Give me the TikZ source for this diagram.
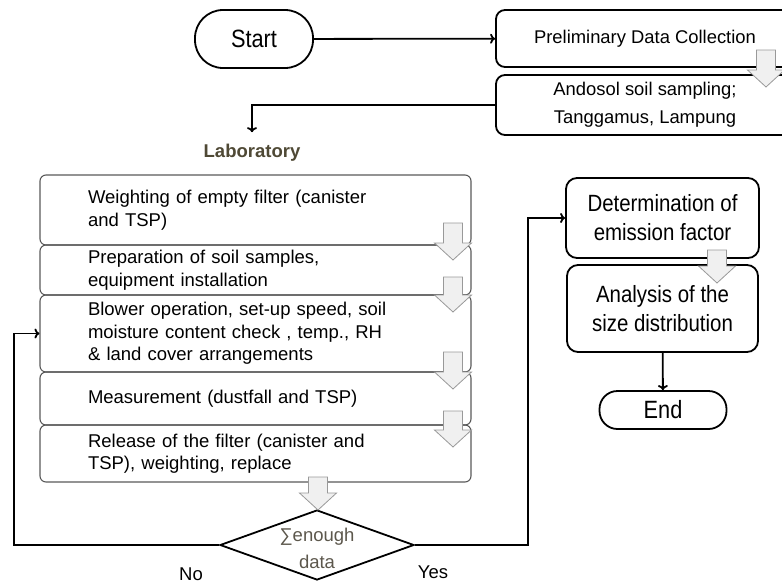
\documentclass[tikz,border=0pt]{standalone}
\usepackage{fontspec}
\setmainfont{Liberation Sans}
\newfontfamily\narrowsans{Liberation Sans}[FakeStretch=0.87]
\usetikzlibrary{shapes.geometric,arrows.meta}
\definecolor{labtext}{HTML}{4F4935}
\definecolor{dectext}{HTML}{5C574C}
% hollow down arrow: centre x, top y, tip y
\newcommand{\blockarrow}[3]{\draw[hollow] (#1-9.5,#2) -- (#1+9.5,#2) -- (#1+9.5,#3-17) -- (#1+18.5,#3-17) -- (#1,#3) -- (#1-18.5,#3-17) -- (#1-9.5,#3-17) -- cycle;}
\begin{document}
\begin{tikzpicture}[x=1pt,y=-1pt]
\tikzstyle{termbox}=[draw,line width=1.8pt,inner sep=0pt,font=\narrowsans\fontsize{25}{29}\selectfont]
\tikzstyle{procbox}=[draw,line width=1.8pt,rounded corners=9pt,inner sep=0pt,align=center,font=\fontsize{18.4}{28}\selectfont]
\tikzstyle{resbox}=[draw,line width=1.8pt,rounded corners=11pt,inner sep=0pt,align=center,font=\narrowsans\fontsize{23.5}{29}\selectfont]
\tikzstyle{labbox}=[draw=black!65,line width=1.1pt,rounded corners=6pt,minimum width=431pt,text width=335pt,inner xsep=48pt,inner ysep=0pt,align=left,font=\fontsize{18.5}{22.5}\selectfont]
\tikzstyle{hollow}=[draw=black!40,fill=black!6,line width=0.8pt,line join=miter]
\tikzstyle{decision}=[diamond,draw,line width=1.8pt,minimum width=194pt,minimum height=70pt,inner sep=0pt]
\tikzstyle{flow}=[line width=1.8pt,-{To[length=5pt,width=10pt]}]
\tikzstyle{txt}=[inner sep=0pt,font=\fontsize{18.5}{27}\selectfont]
\useasboundingbox (0,0) rectangle (782,584);
% top row
\node[termbox,rounded corners=28pt,minimum width=118pt,minimum height=58pt] (start) at (254,39) {Start};
\node[procbox,minimum width=298pt,minimum height=57pt] (prelim) at (645,38.5) {Preliminary Data Collection};
\node[procbox,minimum width=298pt,minimum height=60pt] (ando) at (645,105) {\raisebox{-5pt}{\shortstack{Andosol soil sampling;\\[9pt]Tanggamus, Lampung}}};
\node[txt,font=\bfseries\fontsize{18.5}{22}\selectfont,text=labtext] (lab) at (252,153) {Laboratory};
% laboratory steps
\node[labbox,minimum height=70pt] (b1) at (255.5,210) {Weighting of empty filter (canister\\and TSP)};
\node[labbox,minimum height=50pt] (b2) at (255.5,270) {Preparation of soil samples,\\equipment installation};
\node[labbox,minimum height=77pt] (b3) at (255.5,333.5) {Blower operation, set-up speed, soil\\moisture content check , temp., RH\\\& land cover arrangements};
\node[labbox,minimum height=53pt] (b4) at (255.5,398.5) {Measurement (dustfall and TSP)};
\node[labbox,minimum height=57pt] (b5) at (255.5,453.5) {Release of the filter (canister and\\TSP), weighting, replace};
% decision
\node[decision] (dec) at (317,545) {};
\node[txt,align=center,text=dectext] (dect) at (317,548.5) {∑enough\\data};
\node[txt] (no) at (191,574) {No};
\node[txt] (yes) at (433,572) {Yes};
% results
\node[resbox,minimum width=193pt,minimum height=80pt] (det) at (662.5,218) {Determination of\\emission factor};
\node[resbox,minimum width=191pt,minimum height=87pt] (ana) at (662.5,308.5) {Analysis of the\\size distribution};
\node[termbox,rounded corners=18pt,minimum width=127pt,minimum height=38pt] (end) at (663,410) {End};
% block arrows
\blockarrow{766}{50}{87}
\foreach \t/\b in {223/260,277/312,352/389,411/447} {\blockarrow{453}{\t}{\b}}
\blockarrow{318}{477}{510}
\blockarrow{717}{250}{283}
% connectors
\coordinate (nc) at (14,545);
\coordinate (yc) at (528,545);
\draw[flow] (start) -- (prelim);
\draw[flow,shorten >=12pt] (ando.west) -| (lab.north);
\draw[flow] (dec.west) -- (nc) |- (b3.west);
\draw[flow] (dec.east) -- (yc) |- (det.west);
\draw[flow] (ana) -- (end);
\end{tikzpicture}
\end{document}
